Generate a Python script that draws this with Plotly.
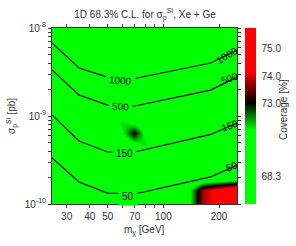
import numpy as np
import plotly.graph_objects as go

# ---------------- data ----------------
# coverage grid (cell centres), rows = sigma (ascending), cols = mass
mass_grid = [25, 35, 50, 59, 69, 80, 100, 127, 164, 250]
sigma_grid = [1.0e-10, 1.44e-10, 2.14e-10, 3.16e-10, 4.81e-10, 6.41e-10,
              8.55e-10, 1.23e-9, 3.0e-9, 1.0e-8]
coverage = [
    [68.3, 68.3, 68.3, 68.3, 68.3, 68.3, 68.3, 69.5, 73.8, 75.2],
    [68.3, 68.3, 68.3, 68.3, 68.3, 68.3, 68.3, 69.5, 73.8, 75.2],
    [68.3, 68.3, 68.3, 68.3, 68.3, 68.3, 68.3, 68.3, 68.3, 68.3],
    [68.3, 68.3, 68.3, 68.3, 68.3, 68.3, 68.3, 68.3, 68.3, 68.3],
    [68.3, 68.3, 68.3, 70.0, 71.0, 71.6, 68.3, 68.3, 68.3, 68.3],
    [68.3, 68.3, 68.3, 71.0, 73.1, 71.0, 68.3, 68.3, 68.3, 68.3],
    [68.3, 68.3, 68.3, 71.6, 71.0, 70.0, 68.3, 68.3, 68.3, 68.3],
    [68.3, 68.3, 68.3, 68.3, 68.3, 68.3, 68.3, 68.3, 68.3, 68.3],
    [68.3, 68.3, 68.3, 68.3, 68.3, 68.3, 68.3, 68.3, 68.3, 68.3],
    [68.3, 68.3, 68.3, 68.3, 68.3, 68.3, 68.3, 68.3, 68.3, 68.3],
]

# colour-bar: coverage values and their (non-linear) position on the bar
cbar_cov = [68.3, 73.0, 74.0, 75.0, 75.75]
cbar_pos = [0.154, 0.569, 0.727, 0.883, 1.0]
cbar_tick_cov = [68.3, 73.0, 74.0, 75.0]
cbar_tick_text = ["68.3", "73.0", "74.0", "75.0"]

# iso-event contour lines
line_mass = [25, 35, 50, 70, 180, 250]
line_1000 = [6.75e-9, 3.51e-9, 2.77e-9, 2.67e-9, 4.0e-9, 5.62e-9]
line_500 = [3.33e-9, 1.73e-9, 1.33e-9, 1.30e-9, 1.97e-9, 2.77e-9]
line_150 = [1.03e-9, 5.2e-10, 3.9e-10, 3.9e-10, 6.17e-10, 8.3e-10]
line_50 = [3.33e-10, 1.78e-10, 1.33e-10, 1.30e-10, 2.03e-10, 2.77e-10]

# axis ticks
x_tickvals = [30, 40, 50, 60, 70, 80, 90, 100, 200]
x_ticktext = ["30", "40", "50", "", "70", "", "", "100", "200"]
y_tickvals = [k * 10.0 ** e for e in (-10, -9) for k in range(1, 10)] + [1e-8]
y_ticktext = [("10<sup>%d</sup>" % e if k == 1 else "") for e in (-10, -9) for k in range(1, 10)] + ["10<sup>-8</sup>"]

# ---------------- figure ----------------
GREEN = "rgb(0,255,0)"
zpos = np.interp(np.array(coverage), cbar_cov, cbar_pos)

fig = go.Figure()
fig.add_trace(go.Heatmap(
    x=mass_grid, y=sigma_grid, z=zpos, zsmooth="best", zmin=0, zmax=1,
    colorscale=[[0, GREEN], [0.418, GREEN], [0.575, "rgb(0,0,0)"],
                [0.758, "rgb(255,0,0)"], [1, "rgb(255,0,0)"]],
    hoverinfo="skip",
    colorbar=dict(
        x=1.0 + 8 / 185, xanchor="left", xpad=0,
        y=0.5, yanchor="middle", len=1.0, lenmode="fraction", ypad=0,
        thickness=11, thicknessmode="pixels", outlinewidth=0,
        tickvals=list(np.interp(cbar_tick_cov, cbar_cov, cbar_pos)),
        ticktext=cbar_tick_text, ticks="outside", ticklen=4, tickcolor="rgba(0,0,0,0)",
        tickfont=dict(size=10, color="#333"),
    ),
))

for ys in (line_1000, line_500, line_150, line_50):
    fig.add_trace(go.Scatter(x=line_mass, y=ys, mode="lines",
                             line=dict(color="black", width=1.2), hoverinfo="skip"))

# contour labels
mid_labels = [("1000", 59, 2.56e-9, 5), ("500", 58.5, 1.28e-9, 3),
              ("150", 61.6, 3.75e-10, 0), ("50", 64.4, 1.23e-10, 0)]
edge_labels = [("1000", 221, 4.81e-9, -30), ("500", 227, 2.67e-9, -20),
               ("150", 229, 7.9e-10, -20), ("50", 234, 2.67e-10, -20)]
ann = []
for t, m, s, a in mid_labels:
    ann.append(dict(text=t, x=np.log10(m), y=np.log10(s), xref="x", yref="y",
                    showarrow=False, textangle=a, bgcolor=GREEN, borderpad=3,
                    font=dict(size=10, color="black")))
for t, m, s, a in edge_labels:
    ann.append(dict(text=t, x=np.log10(m), y=np.log10(s), xref="x", yref="y",
                    showarrow=False, textangle=a,
                    font=dict(size=10, color="black")))
# axis titles
ann.append(dict(text="σ<sub>p</sub><sup>SI</sup> [pb]", xref="paper", yref="paper",
                x=-0.216, y=0.5, xanchor="center", yanchor="middle", textangle=-90,
                showarrow=False, font=dict(size=10, color="#333")))
ann.append(dict(text="m<sub>χ</sub> [GeV]", xref="paper", yref="paper",
                x=0.5, y=-0.153, xanchor="center", yanchor="middle",
                showarrow=False, font=dict(size=10, color="#333")))
ann.append(dict(text="Coverage [%]", xref="paper", yref="paper",
                x=(283 - 52) / 185, y=(204 - 110) / 176, xanchor="center", yanchor="middle",
                textangle=-90, showarrow=False, font=dict(size=10, color="#333")))

axis_common = dict(type="log", ticks="outside", ticklen=3, tickwidth=1, tickcolor="#333",
                   showline=True, linecolor="#333", linewidth=1, mirror="allticks",
                   showgrid=False, zeroline=False, tickfont=dict(size=10, color="#333"))

fig.update_layout(
    width=296, height=246,
    margin=dict(l=52, r=59, t=28, b=42, autoexpand=False),
    paper_bgcolor="white", plot_bgcolor="white",
    font=dict(family="Liberation Sans, Arial, sans-serif", size=10, color="#333"),
    showlegend=False,
    title=dict(text="1D 68.3% C.L. for σ<sub>p</sub><sup>SI</sup>, Xe + Ge",
               x=0.49, xanchor="center", y=1 - 14 / 246, yanchor="middle",
               font=dict(size=10, color="#333")),
    xaxis=dict(range=[np.log10(25), np.log10(250)], tickvals=x_tickvals,
               ticktext=x_ticktext, **axis_common),
    yaxis=dict(range=[-10, -8], tickvals=y_tickvals, ticktext=y_ticktext, **axis_common),
    annotations=ann,
)

fig.write_html("out.html", config={"displayModeBar": False},
               post_script="document.body.style.margin='0px';")
